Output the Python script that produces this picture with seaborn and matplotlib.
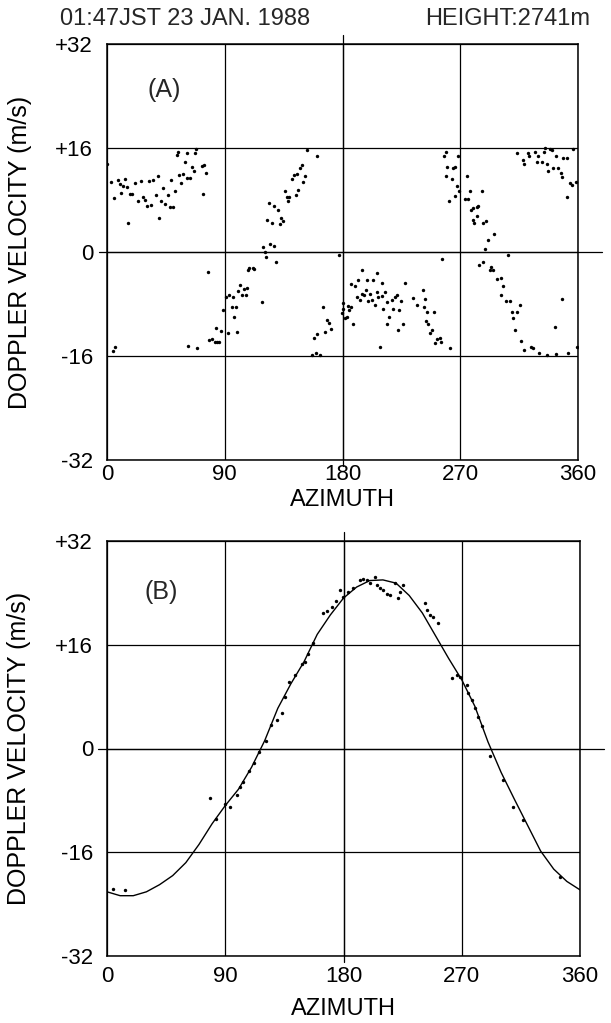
import matplotlib

matplotlib.use("Agg")
import matplotlib.pyplot as plt
import pandas as pd
import seaborn as sns

# panel (A): raw doppler velocities (aliased)
az_a = [
    0.3, 2.8, 5.4, 8.7, 9.9, 10.7, 12.0, 13.5, 15.0, 16.3, 17.6, 18.9, 21.4, 23.9, 26.0, 27.3,
    29.0, 30.8, 31.9, 33.6, 35.4, 37.2, 38.7, 39.5, 41.0, 43.0, 44.6, 46.4, 48.2, 49.2,
    50.7, 52.0, 53.3, 54.5, 55.0, 56.6, 57.8, 59.4, 60.9, 60.9, 63.4, 64.7, 66.7, 67.5,
    68.0, 72.4, 74.1, 73.6, 75.7,
    4.5, 6.3, 62.2, 69.0, 77.0,
    78.0, 80.0, 82.5, 83.8, 83.3, 85.9, 87.1, 88.9, 90.7, 92.5, 93.5, 95.3, 96.1, 97.3,
    98.4, 99.6, 100.4, 101.7, 102.9, 104.9, 106.0, 107.2, 108.0, 108.5, 111.4, 112.6,
    118.2, 119.5, 121.0, 121.5, 124.6, 127.9, 128.9, 122.5, 124.0, 126.1, 127.9, 130.5,
    132.2, 133.0, 134.3, 136.0, 137.3, 138.6, 139.4, 141.2, 142.9, 144.2, 145.5, 146.2,
    147.5, 148.8, 150.0, 151.3, 152.6, 160.3,
    158.2, 160.3, 157.0, 160.0, 163.0, 166.6, 165.3, 167.9, 169.7, 171.0, 177.6, 179.4,
    180.6, 184.4, 185.2,
    180.6, 181.9, 183.2, 186.2, 186.5, 188.3, 189.5, 190.8, 192.1, 193.4, 195.1, 194.7,
    196.7, 198.0, 198.5, 199.7, 201.0, 202.3, 203.5, 204.8, 206.1, 206.1, 207.4, 208.7,
    210.0, 210.4, 211.2, 212.5, 213.8, 214.3, 215.5, 217.6, 218.8, 220.1, 221.4, 222.6,
    223.4, 224.5, 226.0, 227.8, 234.1, 237.2, 241.3, 243.0, 242.3, 243.8, 244.8, 245.6,
    246.9, 248.6, 250.2, 250.7, 252.5, 254.5, 255.0, 262.2, 255.8,
    257.6, 259.1, 260.1, 258.9, 261.6, 263.4, 264.7, 266.0, 266.0, 267.3, 268.5, 269.3,
    273.6, 275.4, 276.2, 277.4, 278.2, 279.5, 282.5, 283.8, 283.0, 280.0, 280.8, 286.4,
    287.1, 289.7, 291.4, 296.0, 288.9, 306.2, 284.6, 287.6, 292.7, 293.5, 294.8, 297.8,
    301.1, 302.4, 300.9, 305.0, 308.0, 309.3, 310.0, 311.8, 313.1, 315.6, 316.4, 319.0,
    324.0, 325.8, 347.5, 342.4, 359.0, 330.0, 336.0, 343.0, 352.0,
    313.6, 318.2, 319.0, 322.0, 322.8, 327.1, 328.4, 329.7, 332.2, 334.2, 334.8, 336.1,
    337.3, 338.6, 339.9, 341.1, 342.9, 344.9, 346.8, 347.5, 348.8, 351.8, 351.3, 353.9,
    355.2, 358.2, 356.4,
]
vel_a = [
    13.6, 10.8, 8.3, 11.1, 10.4, 9.1, 10.2, 11.2, 10.0, 4.4, 8.9, 9.0, 10.6, 7.9, 11.0, 8.5,
    8.0, 7.1, 11.0, 7.2, 11.1, 8.8, 11.7, 5.2, 7.9, 9.8, 7.4, 8.8, 7.0, 11.1,
    6.9, 9.4, 14.9, 15.4, 11.8, 10.6, 12.0, 13.9, 15.2, 11.4, 11.4, 13.1, 12.4, 15.2,
    15.8, 13.2, 13.4, 8.9, 12.1,
    -15.2, -14.6, -14.5, -14.7, -3.0,
    -13.5, -13.4, -13.8, -13.8, -11.7, -13.8, -12.2, -8.9, -6.9, -12.5, -6.6, -8.5, -6.9, -10.0,
    -8.5, -12.3, -6.0, -5.1, -6.6, -5.7, -6.6, -5.5, -2.8, -2.5, -2.4, -2.6,
    -7.7, 0.7, 0.05, -0.7, 1.2, 0.9, -1.5, 4.9, 7.5, 4.4, 7.1, 6.4,
    4.3, 5.2, 4.8, 9.4, 8.5, 7.9, 8.4, 11.3, 11.8, 8.7, 12.0, 9.6,
    13.0, 13.4, 10.8, 11.7, 15.7, 14.8,
    -13.3, -12.6, -15.8, -15.6, -15.8, -12.3, -8.4, -10.5, -10.9, -11.8, -0.5, -9.4,
    -8.7, -8.3, -8.9,
    -7.9, -10.2, -10.0, -8.4, -4.9, -11.1, -5.3, -6.9, -4.3, -7.4, -2.8, -6.4,
    -6.6, -5.8, -4.3, -7.6, -6.5, -7.4, -4.3, -8.2, -3.3, -6.1, -6.9, -14.6,
    -6.8, -4.7, -8.7, -6.1, -11.0, -7.7, -10.0, -7.4, -8.8, -6.9, -6.6, -12.0,
    -8.9, -7.6, -11.0, -4.8, -7.1, -8.2, -5.8, -7.3, -8.4, -10.6, -9.2, -11.1,
    -12.5, -12.0, -9.2, -14.0, -13.4, -13.3, -13.9, -14.8, -1.0,
    14.7, 15.4, 13.1, 11.7, 7.9, 11.3, 12.9, 13.1, 8.6, 10.2, 14.7, 9.4,
    8.1, 11.7, 8.1, 9.4, 6.5, 6.7, 7.0, 7.1, 5.5, 5.0, 4.4, 9.4,
    4.5, 4.8, 1.9, 2.8, 0.4, -0.5, -2.0, -1.6, -2.8, -2.3, -2.7, -4.2,
    -4.0, -5.2, -6.6, -7.5, -7.5, -9.2, -10.2, -12.0, -9.2, -8.2, -13.7, -15.1,
    -14.6, -14.8, -7.3, -11.5, -14.6, -15.6, -15.9, -15.7, -15.5,
    15.2, 14.2, 13.5, 15.3, 14.7, 15.4, 13.9, 14.8, 13.9, 15.4, 16.0, 13.6,
    12.4, 15.8, 15.7, 13.0, 14.8, 12.9, 12.1, 11.6, 14.4, 14.4, 8.5, 10.6,
    10.3, 10.8, 15.8,
]

# panel (B): unfolded velocities and fitted curve
az_b = [
    4.8, 13.7, 78.4, 83.0, 89.8, 93.6, 98.7, 101.2, 103.7, 108.0, 112.0, 116.0, 121.0,
    125.0, 129.1, 132.9, 135.5, 138.8, 143.1, 148.2, 150.7, 153.0, 157.0, 164.6, 167.7,
    171.0, 174.0, 177.3, 179.9, 183.7, 187.5, 192.6, 195.1, 197.7, 200.2, 204.0, 205.3,
    207.8, 210.3, 212.8, 215.4, 219.2, 221.7, 223.0, 225.5, 242.0, 243.3, 245.8, 248.3,
    252.1, 262.3, 266.1, 268.6, 273.7, 275.0, 277.5, 280.1, 282.6, 285.2, 291.5, 301.6,
    309.3, 316.9, 344.8,
]
vel_b = [
    -21.6, -21.8, -7.7, -10.8, -8.5, -9.0, -7.2, -5.9, -5.1, -3.5, -2.2, -0.5, 1.2,
    3.6, 4.4, 5.4, 8.0, 10.2, 11.3, 13.1, 13.4, 14.5, 16.3, 20.9, 21.2,
    21.8, 22.8, 24.4, 23.4, 24.2, 24.7, 26.0, 26.2, 26.0, 25.5, 26.4, 25.2,
    24.7, 24.4, 23.9, 23.7, 25.5, 23.2, 24.2, 25.2, 22.4, 21.4, 20.6, 20.3,
    19.3, 10.8, 11.3, 11.1, 9.8, 8.5, 7.5, 6.2, 4.9, 3.4, -1.2, -4.9,
    -9.0, -11.0, -19.8,
]
fit_az = list(range(0, 361, 10))
fit_vel = [
    -22.1, -22.7, -22.7, -22.1, -21.0, -19.6, -17.6, -14.8, -11.6, -8.8, -6.3, -2.9, 1.2,
    6.2, 10.0, 13.4, 17.6, 20.6, 23.2, 24.9, 25.9, 26.0, 25.5, 23.6, 20.9, 17.4, 13.9,
    10.6, 6.5, 1.0, -3.7, -7.8, -11.8, -15.8, -18.6, -20.5, -21.8,
]

x_ticks = [0, 90, 180, 270, 360]
y_ticks = [-32, -16, 0, 16, 32]
y_tick_labels = ["-32", "-16", "0", "+16", "+32"]

sns.set_theme(style="white")
plt.rcParams["font.family"] = ["Liberation Sans", "DejaVu Sans"]

df_a = pd.DataFrame({"az": az_a, "vel": vel_a})
df_b = pd.DataFrame({"az": az_b, "vel": vel_b})
df_fit = pd.DataFrame({"az": fit_az, "vel": fit_vel})

fig = plt.figure(figsize=(6.11, 10.23), dpi=100)
ax_a = fig.add_axes([107 / 611, 1 - 460 / 1023, 471 / 611, 416 / 1023])
ax_b = fig.add_axes([107 / 611, 1 - 956 / 1023, 473 / 611, 415 / 1023])

sns.scatterplot(data=df_a, x="az", y="vel", ax=ax_a, s=6, color="black",
                linewidth=0, zorder=3)
sns.scatterplot(data=df_b, x="az", y="vel", ax=ax_b, s=6, color="black",
                linewidth=0, zorder=3)
sns.lineplot(data=df_fit, x="az", y="vel", ax=ax_b, color="black", lw=1.0,
             zorder=3)


def style_axes(ax, xpad, label_y):
    ax.set_xlim(0, 360)
    ax.set_ylim(-32, 32)
    ax.set_xticks(x_ticks)
    ax.set_yticks(y_ticks)
    ax.set_yticklabels(y_tick_labels)
    ax.grid(True, color="black", lw=0.9)
    ax.set_axisbelow(True)
    for sp in ax.spines.values():
        sp.set_color("black")
        sp.set_linewidth(1.1)
    # zero line and centre line run a little past the frame, as in the original
    ax.axhline(0, xmin=-0.018, xmax=1.05, color="black", lw=0.9, clip_on=False)
    ax.axvline(180, ymin=-0.015, ymax=1.022, color="black", lw=0.9, clip_on=False)
    ax.tick_params(axis="x", length=0, pad=xpad, labelsize=16, colors="black")
    ax.tick_params(axis="y", length=0, pad=10, labelsize=16, colors="black")
    ax.set_xlabel("AZIMUTH", fontsize=17, color="black")
    ax.set_ylabel("DOPPLER VELOCITY (m/s)", fontsize=18, color="black")
    ax.xaxis.set_label_coords(0.5, label_y)
    ax.yaxis.set_label_coords(-0.16, 0.5)


style_axes(ax_a, 3, -0.07)
style_axes(ax_b, 7, -0.101)

ax_a.text(43.6, 25.0, "(A)", fontsize=18, ha="center", va="center")
ax_b.text(41.0, 24.2, "(B)", fontsize=18, ha="center", va="center")

fig.text(60 / 611, 1 - 19 / 1023, "01:47JST 23 JAN. 1988", fontsize=17,
         ha="left", va="center")
fig.text(590 / 611, 1 - 19 / 1023, "HEIGHT:2741m", fontsize=17,
         ha="right", va="center")

fig.savefig("out.png", dpi=100, facecolor="white")
